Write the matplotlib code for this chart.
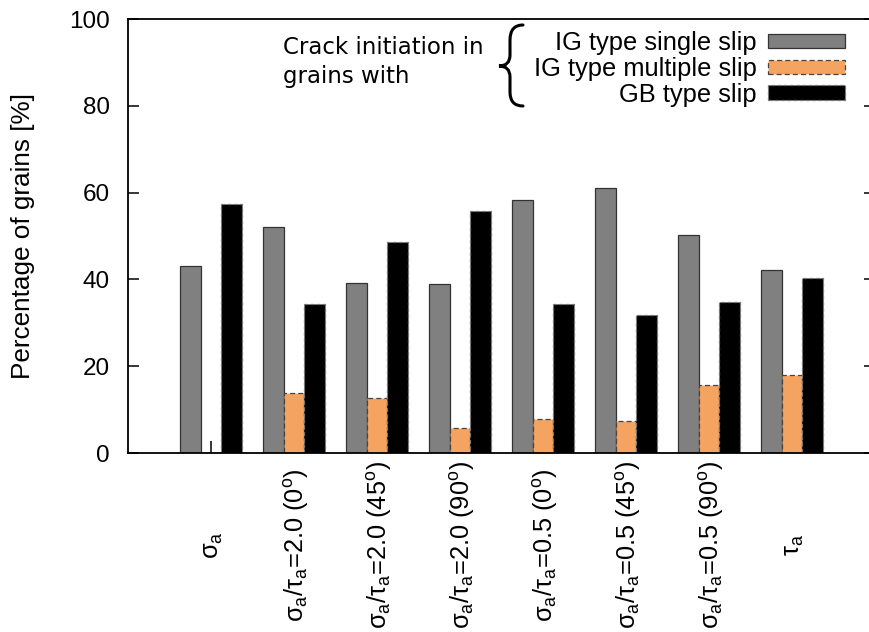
import numpy as np
import matplotlib
matplotlib.use("Agg")
import matplotlib.pyplot as plt
from matplotlib.path import Path
from matplotlib.patches import PathPatch

plt.rcParams['font.family'] = ['Liberation Sans', 'DejaVu Sans']
plt.rcParams['mathtext.fontset'] = 'custom'
plt.rcParams['mathtext.rm'] = 'Liberation Sans'
plt.rcParams['mathtext.it'] = 'Liberation Sans:italic'

# data
labels = [
    r'$\mathregular{\sigma_a}$',
    r'$\mathregular{\sigma_a/\tau_a}$=2.0 (0$\mathregular{^o}$)',
    r'$\mathregular{\sigma_a/\tau_a}$=2.0 (45$\mathregular{^o}$)',
    r'$\mathregular{\sigma_a/\tau_a}$=2.0 (90$\mathregular{^o}$)',
    r'$\mathregular{\sigma_a/\tau_a}$=0.5 (0$\mathregular{^o}$)',
    r'$\mathregular{\sigma_a/\tau_a}$=0.5 (45$\mathregular{^o}$)',
    r'$\mathregular{\sigma_a/\tau_a}$=0.5 (90$\mathregular{^o}$)',
    r'$\mathregular{\tau_a}$',
]
single_slip = [43.0, 52.1, 39.2, 39.0, 58.3, 61.1, 50.2, 42.2]
multiple_slip = [0.0, 13.9, 12.7, 5.7, 7.8, 7.4, 15.6, 18.0]
gb_slip = [57.4, 34.3, 48.6, 55.8, 34.3, 31.9, 34.8, 40.3]
series_names = ["IG type single slip", "IG type multiple slip", "GB type slip"]

W, H = 869, 632
FS = 17.5

fig = plt.figure(figsize=(W / 100, H / 100), dpi=100)
ax = fig.add_axes([128 / W, 1 - 453 / H, (875 - 128) / W, (453 - 19) / H])

x = np.arange(len(labels))
bw = 0.25
ax.bar(x - bw, single_slip, bw, color="#808080", edgecolor="#333333",
       lw=0.9, label=series_names[0], zorder=2)
ax.bar(x, multiple_slip, bw, color="#f4a460", edgecolor="#444444",
       lw=0.9, ls=(0, (4, 2.5)), label=series_names[1], zorder=2)
ax.bar(x + bw, gb_slip, bw, color="black", edgecolor="#777777",
       lw=0.9, ls=(0, (3, 2)), label=series_names[2], zorder=2)

ax.set_xlim(-1, 8)
ax.set_ylim(0, 100)
ax.set_yticks(np.arange(0, 101, 20))
ax.set_xticks(x)
ax.set_xticklabels([])
ax.set_axisbelow(True)
ax.tick_params(axis='y', direction='in', length=8, width=1.1, left=True,
               right=True, labelsize=FS, pad=13)
ax.tick_params(axis='x', direction='in', length=8.5, width=1.1,
               top=False, bottom=True)
for s in ax.spines.values():
    s.set_linewidth(1.3)

# rotated category labels, centred under each group
for xi, lab in zip(x, labels):
    ax.text(xi + 0.03, -0.212, lab, transform=ax.get_xaxis_transform(),
            rotation=90, ha='center', va='center', fontsize=18.3)

fig.text(23 / W, 1 - 236 / H, "Percentage of grains [%]", rotation=90,
         ha='center', va='center', fontsize=18.8)

# legend: text right-aligned, boxes on the right
leg = ax.legend(loc='center right', bbox_to_anchor=(845 / W, 1 - 69 / H),
                bbox_transform=fig.transFigure, markerfirst=False,
                frameon=False, fontsize=18.4, handlelength=3.0,
                handleheight=0.48, handletextpad=0.45, labelspacing=0.06,
                borderpad=0, borderaxespad=0)

fig.text(283 / W, 1 - 62 / H, "Crack initiation in\ngrains with",
         family='DejaVu Sans', fontsize=16.5, ha='left', va='center',
         linespacing=1.35)

# curly brace next to the legend
verts = [(px / W, 1 - py / H) for px, py in zip(
    [523, 510, 510, 510, 510, 499, 510, 510, 510, 510, 523],
    [25, 25, 40, 55, 66, 66, 66, 77, 92, 106, 106])]
codes = [Path.MOVETO, Path.CURVE3, Path.CURVE3, Path.LINETO,
         Path.CURVE3, Path.CURVE3, Path.CURVE3, Path.CURVE3,
         Path.LINETO, Path.CURVE3, Path.CURVE3]
fig.patches.append(PathPatch(Path(verts, codes), transform=fig.transFigure,
                             facecolor='none', edgecolor='black', lw=2.2,
                             capstyle='round'))

fig.savefig("out.png", dpi=100)
